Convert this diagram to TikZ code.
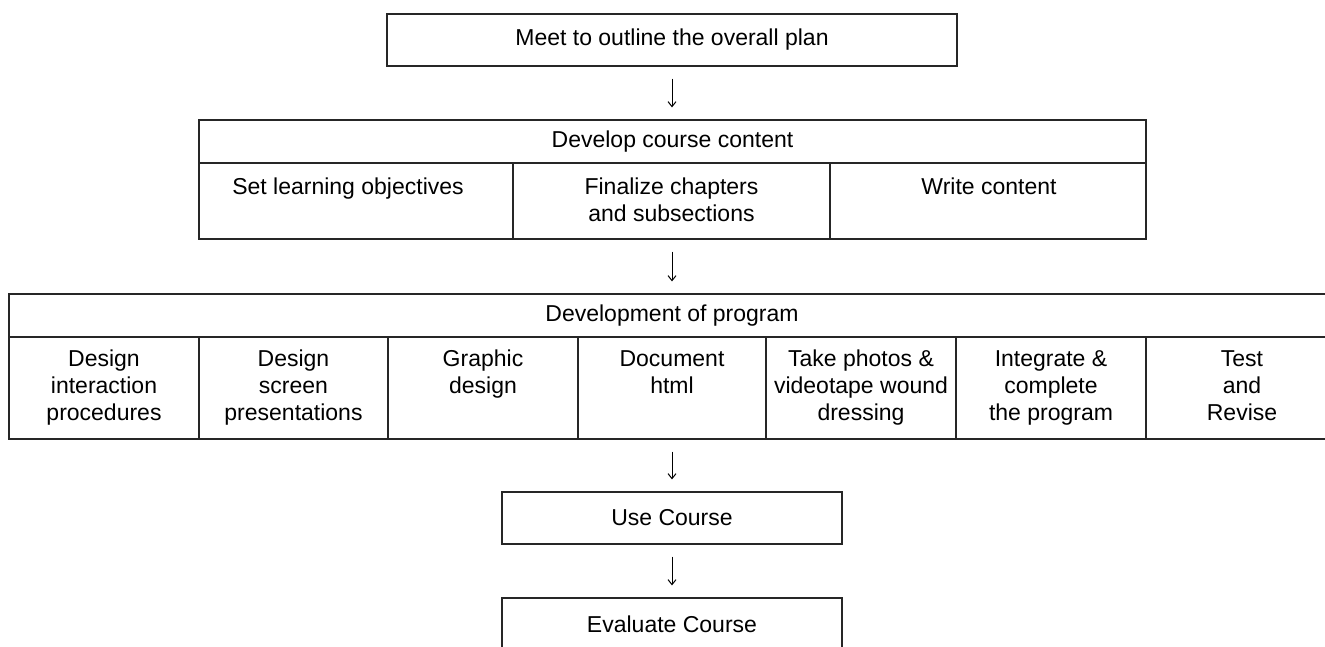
\documentclass[tikz,border=0pt]{standalone}
\usepackage{fontspec}
\setmainfont{Liberation Sans}
\usetikzlibrary{arrows.meta}
\tikzset{
  cell/.style={draw=black!85, line width=1.2pt, rectangle, inner sep=0pt},
  txt/.style={font=\fontsize{23}{27}\selectfont, align=center, inner sep=0pt},
  arr/.style={line width=1pt, -{Straight Barb[length=5pt,width=8pt]}, shorten <=12pt, shorten >=12pt}
}
\begin{document}
\begin{tikzpicture}[x=1pt,y=-1pt]
\useasboundingbox (0,0) rectangle (1325,646);
\clip (0,0) rectangle (1325,646);
% top box
\node[cell, minimum width=570pt, minimum height=52pt] (meet) at (672,40) {};
\node[txt] (meett) at (meet.center) {Meet to outline the overall plan};
% develop course content
\node[cell, minimum width=947pt, minimum height=43pt] (devh) at (672.5,141.5) {};
\node[txt] (devht) at (devh.center) {Develop course content};
\node[cell, minimum width=314pt, minimum height=76pt] (d1) at (356,201) {};
\node[cell, minimum width=317pt, minimum height=76pt] (d2) at (671.5,201) {};
\node[cell, minimum width=316pt, minimum height=76pt] (d3) at (988,201) {};
\node[txt, anchor=north] (d1t) at (348,178) {Set learning objectives};
\node[txt, anchor=north] (d2t) at (671.5,178) {Finalize chapters\\and subsections};
\node[txt, anchor=north] (d3t) at (989,178) {Write content};
% development of program
\node[cell, minimum width=1329pt, minimum height=43pt] (ph) at (673.5,315.5) {};
\node[txt] (pht) at (672,315.5) {Development of program};
\node[cell, minimum width=190pt, minimum height=102pt] (p1) at (104,388) {};
\node[cell, minimum width=189pt, minimum height=102pt] (p2) at (293.5,388) {};
\node[cell, minimum width=190pt, minimum height=102pt] (p3) at (483,388) {};
\node[cell, minimum width=188pt, minimum height=102pt] (p4) at (672,388) {};
\node[cell, minimum width=190pt, minimum height=102pt] (p5) at (861,388) {};
\node[cell, minimum width=190pt, minimum height=102pt] (p6) at (1051,388) {};
\node[cell, minimum width=192pt, minimum height=102pt] (p7) at (1242,388) {};
\node[txt, anchor=north] (p1t) at (p1.center |- 0,350) {Design\\interaction\\procedures};
\node[txt, anchor=north] (p2t) at (p2.center |- 0,350) {Design\\screen\\presentations};
\node[txt, anchor=north] (p3t) at (p3.center |- 0,350) {Graphic\\design};
\node[txt, anchor=north] (p4t) at (p4.center |- 0,350) {Document\\html};
\node[txt, anchor=north] (p5t) at (p5.center |- 0,350) {Take photos \&\\videotape wound\\dressing};
\node[txt, anchor=north] (p6t) at (p6.center |- 0,350) {Integrate \&\\complete\\the program};
\node[txt, anchor=north] (p7t) at (p7.center |- 0,350) {Test\\and\\Revise};
% use / evaluate
\node[cell, minimum width=340pt, minimum height=52pt] (use) at (672,518) {};
\node[txt] (uset) at (use.center) {Use Course};
\node[cell, minimum width=340pt, minimum height=52pt] (eval) at (672,624) {};
\node[txt] (evalt) at (eval.center) {Evaluate Course};
% arrows
\draw[arr] (meet.south) -- (meet.south |- devh.north);
\draw[arr] (meet.south |- d2.south) -- (meet.south |- ph.north);
\draw[arr] (use.north |- p4.south) -- (use.north);
\draw[arr] (use.south) -- (eval.north);
\end{tikzpicture}
\end{document}
